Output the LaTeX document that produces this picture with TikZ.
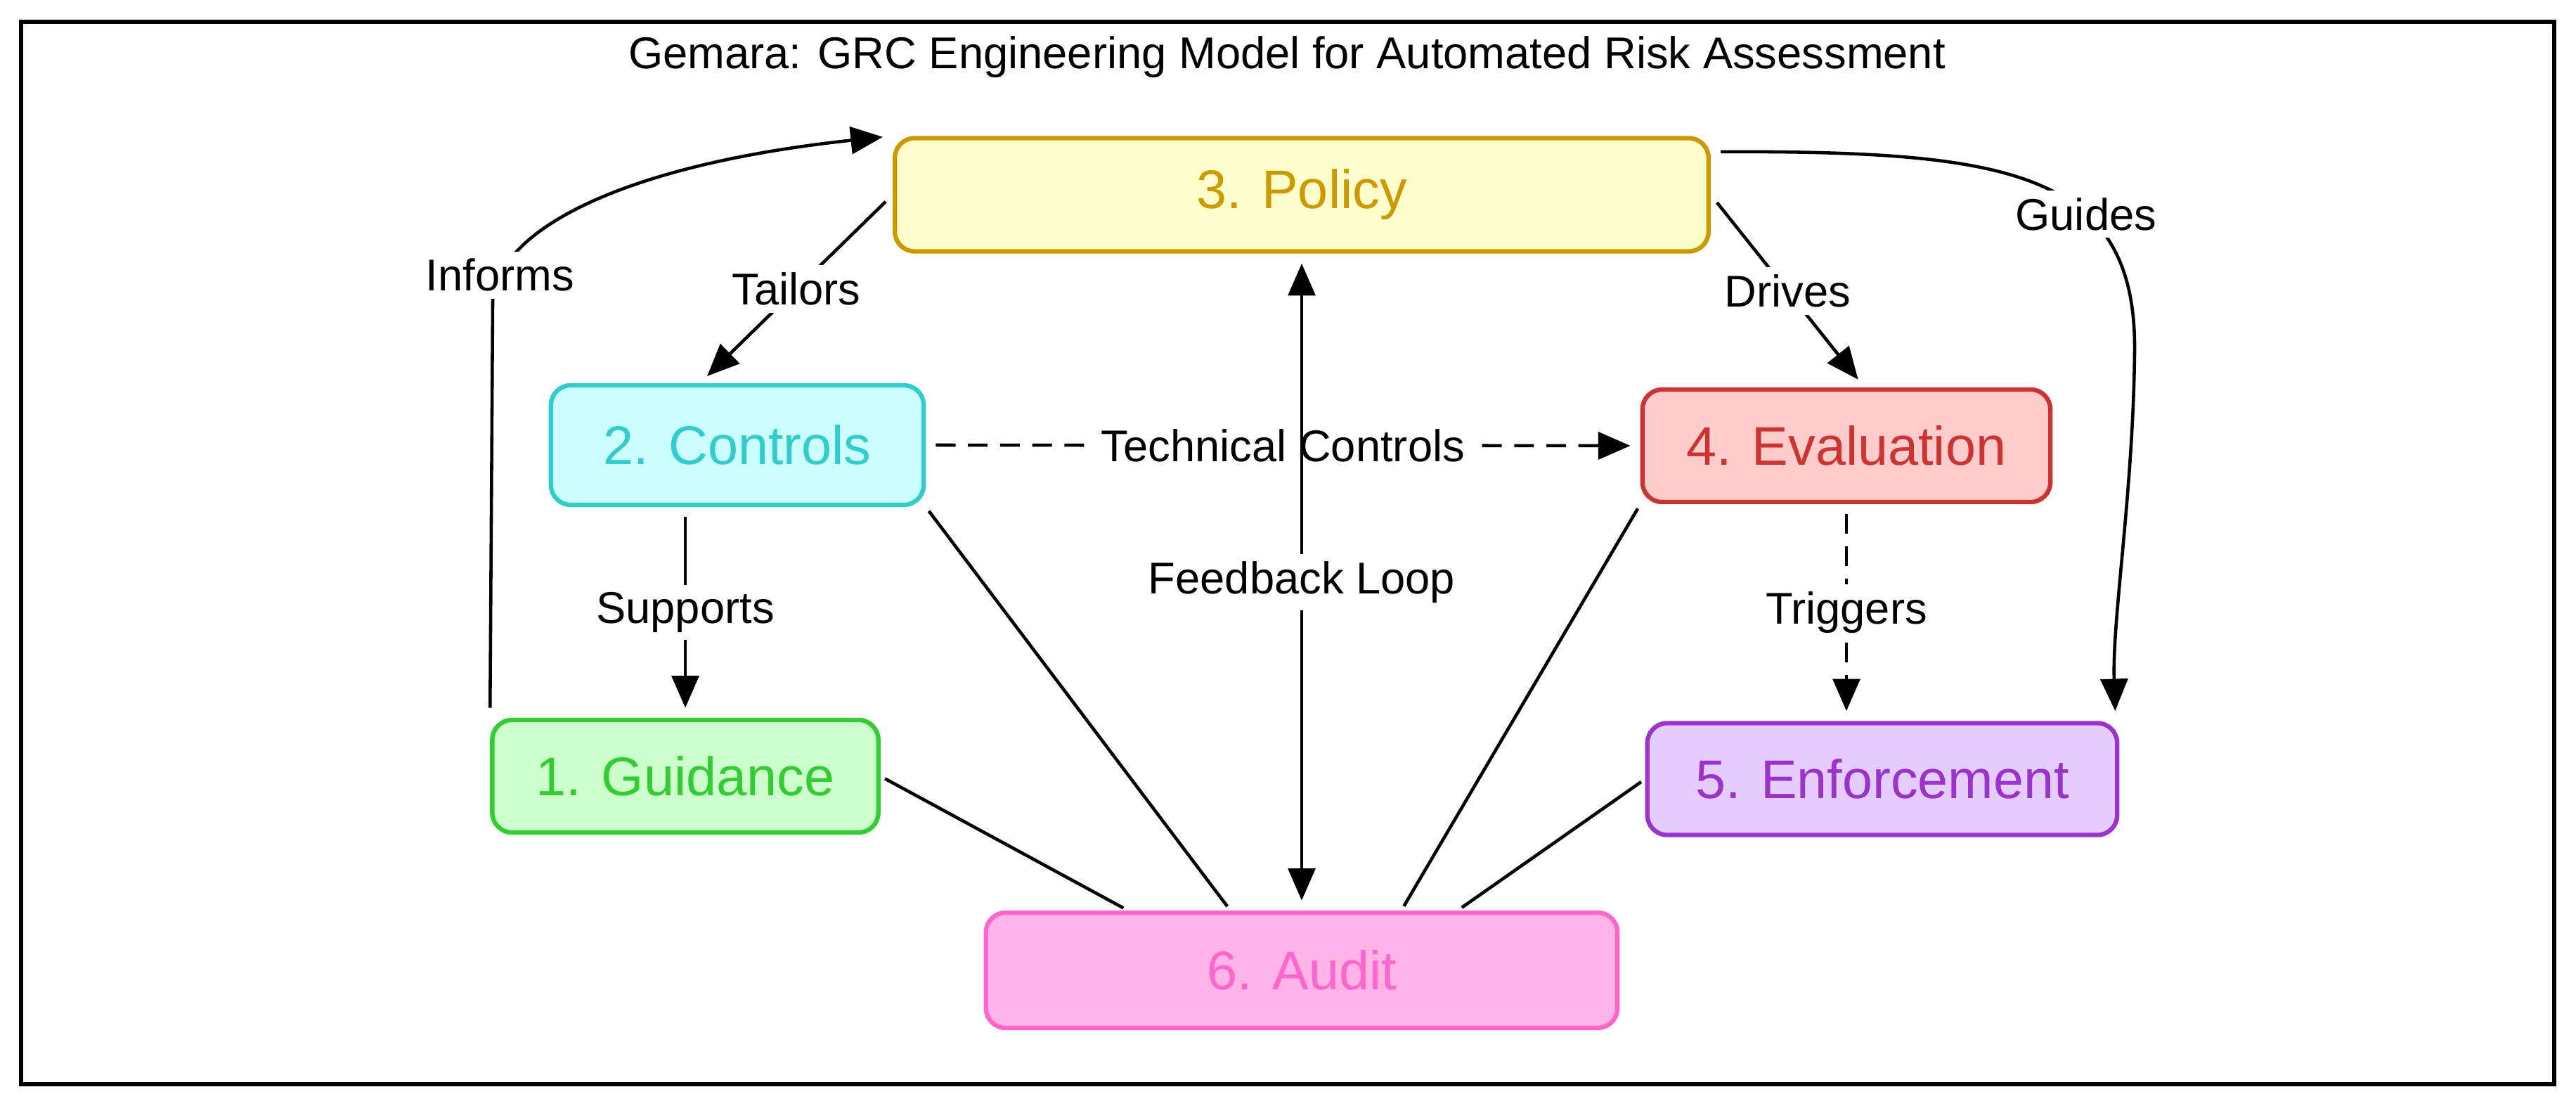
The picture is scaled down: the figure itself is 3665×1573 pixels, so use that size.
\documentclass[tikz,border=0pt]{standalone}
\usepackage{fontspec}
\setmainfont{Liberation Sans}
\usetikzlibrary{positioning}
\usetikzlibrary{arrows.meta}
\definecolor{polS}{HTML}{CC9900}
\definecolor{polF}{HTML}{FFFFCC}
\definecolor{conS}{HTML}{33CCCC}
\definecolor{conF}{HTML}{CCFFFF}
\definecolor{evaS}{HTML}{CC3333}
\definecolor{evaF}{HTML}{FFCCCC}
\definecolor{guiS}{HTML}{33CC33}
\definecolor{guiF}{HTML}{CCFFCC}
\definecolor{enfS}{HTML}{9933CC}
\definecolor{enfF}{HTML}{E5CCFF}
\definecolor{audS}{HTML}{FF66CC}
\definecolor{audF}{HTML}{FFB3E6}
\tikzstyle{stage}=[rectangle,rounded corners=8pt,line width=1.8pt,inner sep=0pt,font=\fontsize{22}{26}\selectfont]
\tikzstyle{edge} = [draw,line width=1.3pt,-{Triangle[length=13pt,width=11pt]},shorten >=4pt,shorten <=4pt]
\tikzstyle{biedge} = [edge,{Triangle[length=13pt,width=11pt]}-{Triangle[length=13pt,width=11pt]}]
\tikzstyle{dashededge} = [edge,dash pattern=on 8pt off 5pt]
\tikzstyle{undirectededge} = [draw,line width=1.3pt,shorten >=2pt,shorten <=2pt]
\tikzstyle{weight} = [font=\fontsize{18}{22}\selectfont,fill=white,inner sep=3pt]

\begin{document}
\begin{tikzpicture}[x=0.01cm,y=-0.01cm]
    \useasboundingbox (0,0) rectangle (3665,1573);
    \draw[line width=1.6pt] (30,31) rectangle (3634,1542);
    \node[anchor=base,font=\fontsize{18}{22}\selectfont] (title) at (1831,98) {Gemara: GRC Engineering Model for Automated Risk Assessment};

    % First we draw the stages
    \foreach \pos/\name/\label/\sc/\fc/\w/\h in {{(1852,277)/policy/3. Policy/polS/polF/11.57cm/1.61cm}, {(1049,633)/controls/2. Controls/conS/conF/5.30cm/1.70cm}, {(2627,634)/evaluation/4. Evaluation/evaS/evaF/5.80cm/1.60cm}, {(975,1104)/guidance/1. Guidance/guiS/guiF/5.49cm/1.60cm}, {(2678,1108)/enforcement/5. Enforcement/enfS/enfF/6.68cm/1.59cm}, {(1852,1380)/audit/6. Audit/audS/audF/8.98cm/1.64cm}}
        \node[stage,draw=\sc,fill=\fc,text=\sc,minimum width=\w,minimum height=\h] (\name) at \pos {\label};

    % Connect stages with arrows and draw labels
    \foreach \source/ \dest /\weight in {policy.west/controls.121/Tailors, policy.east/evaluation.73/Drives, controls.south -| guidance.north/guidance.north/Supports}
        \path[edge] (\source) -- node[weight] {\weight} (\dest);
    \path[dashededge] (controls.east) -- node[weight] {Technical Controls} (evaluation.west);
    \path[dashededge] (evaluation.south) -- node[weight] {Triggers} (evaluation.south |- enforcement.north);
    \path[biedge] (policy.south) -- node[weight] {Feedback Loop} (audit.north);

    % the two long curved ones
    \path[edge] (guidance.north west) -- (701,430) .. controls (705,330) and (880,235) .. (policy.north west) node[weight,pos=0.13] {Informs};
    \path[edge] (policy.6) .. controls (2850,215) and (3040,240) .. (3037,500) node[weight,pos=0.65] {Guides} .. controls (3035,700) and (3005,880) .. (enforcement.14);

    % everything reports to the audit
    \foreach \source/ \dest in {guidance.east/audit.161, controls.south east/audit.140, evaluation.south west/audit.31, enforcement.west/audit.21}
        \path[undirectededge] (\source) -- (\dest);
\end{tikzpicture}
\end{document}
